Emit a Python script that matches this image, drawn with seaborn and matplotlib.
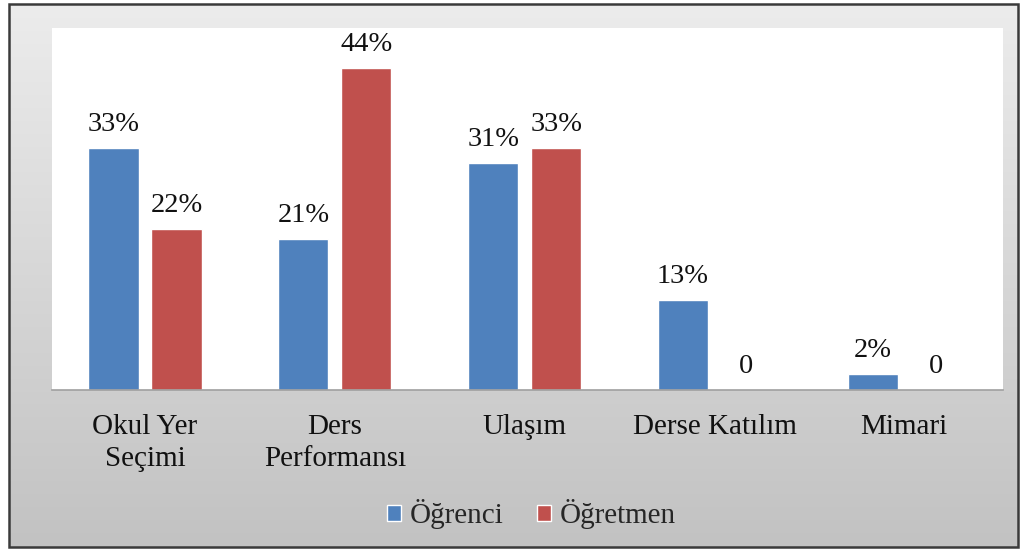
# Okul ile ilgili görüşler: öğrenci vs öğretmen (% dağılım)

import seaborn as sns
import pandas as pd
import numpy as np
import matplotlib.pyplot as plt
from matplotlib.patches import Rectangle

# data
kategoriler = ['Okul Yer\nSeçimi', 'Ders\nPerformansı', 'Ulaşım', 'Derse Katılım', 'Mimari']
ogrenci = [33, 20.6, 31, 12.3, 2.2]
ogretmen = [22, 44, 33, 0, 0]
ogrenci_etiket = ['33%', '21%', '31%', '13%', '2%']
ogretmen_etiket = ['22%', '44%', '33%', '0', '0']
gruplar = ['Öğrenci', 'Öğretmen']

df = pd.DataFrame({
    'kategori': kategoriler * 2,
    'deger': ogrenci + ogretmen,
    'grup': [gruplar[0]] * len(kategoriler) + [gruplar[1]] * len(kategoriler),
})

# style
sns.set_style('white')
plt.rcParams['font.family'] = ['Liberation Serif', 'DejaVu Serif']

pal = {'Öğrenci': '#4f81bd', 'Öğretmen': '#c0504d'}

fig = plt.figure(figsize=(10.22, 5.51), dpi=100)
fig.patch.set_facecolor('white')

# grey gradient frame behind the chart
bg = fig.add_axes([9 / 1022, 4 / 551, 1009 / 1022, 543 / 551])
grad = np.linspace(0, 1, 256).reshape(-1, 1)
bg.imshow(grad, aspect='auto', extent=[0, 1, 0, 1], cmap=sns.blend_palette(['#ececec', '#c2c2c2'], as_cmap=True))
bg.set_axis_off()
bg.add_patch(Rectangle((0, 0), 1, 1, transform=bg.transAxes, fill=False,
                       edgecolor='#3a3a3a', linewidth=1.8, clip_on=False))

# plot area
ax = fig.add_axes([52 / 1022, 161 / 551, 951 / 1022, 362 / 551])
ax.set_facecolor('white')
sns.barplot(data=df, x='kategori', y='deger', hue='grup', palette=pal,
            width=0.664, gap=0.205, saturation=1, ax=ax)

for cont, etiket in zip(ax.containers, [ogrenci_etiket, ogretmen_etiket]):
    ax.bar_label(cont, labels=etiket, padding=8, fontsize=20.5, color='#111111')

ax.set_xlim(-0.49, 4.52)
ax.set_ylim(0, 49.45)
ax.set_xlabel('')
ax.set_ylabel('')
ax.set_yticks([])
ax.tick_params(axis='x', length=0, pad=17, labelsize=21, labelcolor='#111111')
for t in ax.get_xticklabels():
    t.set_linespacing(1.3)
sns.despine(ax=ax, left=True, top=True, right=True)
ax.spines['bottom'].set_color('#a0a0a0')
ax.spines['bottom'].set_linewidth(1.2)

# legend
h, l = ax.get_legend_handles_labels()
ax.legend_.remove()
fig.legend(h, l, loc='center', bbox_to_anchor=(0.52, 0.067), ncol=2, frameon=False,
           fontsize=21, handlelength=0.48, handleheight=0.48, handletextpad=0.3,
           columnspacing=1.15)

plt.savefig('out.png', dpi=100)
